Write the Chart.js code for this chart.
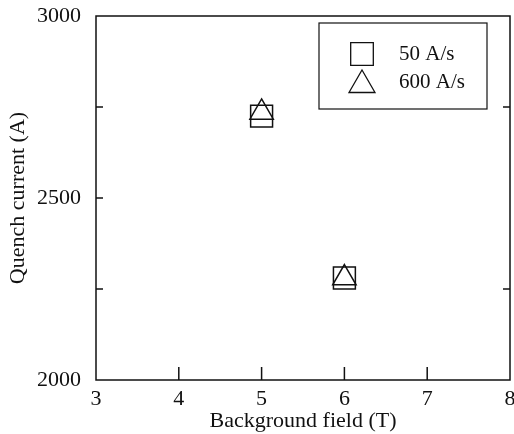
<!DOCTYPE html>
<html>
<head>
<meta charset="utf-8">
<script src="https://cdn.jsdelivr.net/npm/chart.js@4/dist/chart.umd.min.js"></script>
<style>
  html, body { margin: 0; padding: 0; background: #fff; }
</style>
</head>
<body>
<canvas id="quench" width="514" height="434"></canvas>
<script>
// data
const fieldT = [5, 6];
const slowRamp = [2725, 2280];   // 50 A/s
const fastRamp = [2735, 2280];   // 600 A/s
const seriesLabels = ['50 A/s', '600 A/s'];
const yLabelled = [2000, 2500, 3000];
const leftTicks = [2250, 2500, 2750];
const rightTicks = [2250, 2750];
const bottomTicks = [4, 5, 6, 7];

const ink = '#111';
const serif = 'Liberation Serif, Times New Roman, serif';

// box, inward ticks and the legend box
const framePlugin = {
    id: 'frame',
    afterDatasetsDraw(chart) {
        const { ctx, chartArea: a, scales: { x, y } } = chart;
        ctx.save();
        ctx.strokeStyle = ink;
        ctx.lineWidth = 1.5;
        ctx.strokeRect(a.left, a.top, a.right - a.left, a.bottom - a.top);

        ctx.beginPath();
        bottomTicks.forEach(v => {
            const px = x.getPixelForValue(v);
            ctx.moveTo(px, a.bottom);
            ctx.lineTo(px, a.bottom - 13);
        });
        leftTicks.forEach(v => {
            const py = y.getPixelForValue(v);
            ctx.moveTo(a.left, py);
            ctx.lineTo(a.left + 7, py);
        });
        rightTicks.forEach(v => {
            const py = y.getPixelForValue(v);
            ctx.moveTo(a.right, py);
            ctx.lineTo(a.right - 7, py);
        });
        ctx.stroke();

        // legend
        const bw = 168, bh = 86;
        const bx = a.right - 23 - bw, by = a.top + 7;
        ctx.lineWidth = 1.2;
        ctx.strokeRect(bx, by, bw, bh);
        const rows = [31, 59];
        const radii = [16, 15];
        chart.data.datasets.forEach((ds, i) => {
            const cy = by + rows[i];
            ctx.lineWidth = 1.3;
            ctx.strokeStyle = ink;
            ctx.fillStyle = 'rgba(0,0,0,0)';
            Chart.helpers.drawPoint(ctx, {
                pointStyle: ds.pointStyle, radius: radii[i], borderWidth: 1.3
            }, bx + 43, cy + (i === 1 ? 3 : 0));
            ctx.fillStyle = ink;
            ctx.font = '21px ' + serif;
            ctx.textBaseline = 'middle';
            ctx.textAlign = 'left';
            ctx.fillText(ds.label, bx + 80, cy);
        });
        ctx.restore();
    }
};

new Chart(document.getElementById('quench'), {
    type: 'scatter',
    data: {
        datasets: [{
            label: seriesLabels[0],
            data: fieldT.map((f, i) => ({ x: f, y: slowRamp[i] })),
            pointStyle: 'rect',
            pointRadius: 15.5,
            borderColor: ink,
            backgroundColor: 'rgba(0,0,0,0)',
            borderWidth: 1.5
        }, {
            label: seriesLabels[1],
            data: fieldT.map((f, i) => ({ x: f, y: fastRamp[i] })),
            pointStyle: 'triangle',
            pointRadius: 13.5,
            borderColor: ink,
            backgroundColor: 'rgba(0,0,0,0)',
            borderWidth: 1.5
        }]
    },
    options: {
        responsive: false,
        animation: false,
        layout: { autoPadding: false, padding: { left: 0, right: 4, top: 16, bottom: 0 } },
        plugins: { legend: { display: false }, tooltip: { enabled: false } },
        scales: {
            x: {
                type: 'linear',
                min: 3, max: 8,
                afterFit: s => { s.height = 54; s.paddingLeft = 0; s.paddingRight = 0; },
                grid: { display: false, drawTicks: false },
                border: { display: false },
                ticks: { stepSize: 1, padding: 6, color: ink, font: { family: serif, size: 22 } },
                title: {
                    display: true, text: 'Background field (T)', color: ink,
                    font: { family: serif, size: 22 }, padding: { top: 1, bottom: 0 }
                }
            },
            y: {
                min: 2000, max: 3000,
                afterFit: s => { s.width = 96; s.paddingTop = 0; s.paddingBottom = 0; },
                grid: { display: false, drawTicks: false },
                border: { display: false },
                ticks: {
                    stepSize: 250, padding: 15, color: ink,
                    font: { family: serif, size: 22 },
                    callback: v => yLabelled.includes(v) ? String(v) : ''
                },
                title: {
                    display: true, text: 'Quench current (A)', color: ink,
                    font: { family: serif, size: 22 }, padding: { top: 5, bottom: 0 }
                }
            }
        }
    },
    plugins: [framePlugin]
});
</script>
</body>
</html>
